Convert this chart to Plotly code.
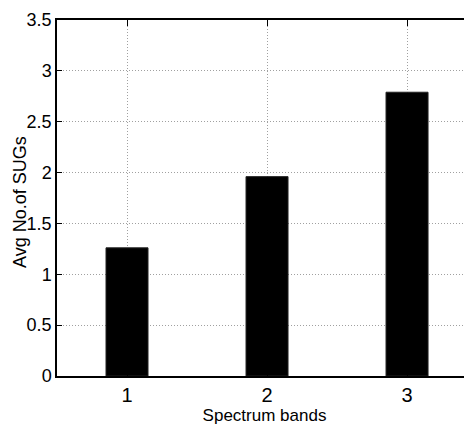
import plotly.graph_objects as go

categories = [1, 2, 3]
avg_sugs = [1.26, 1.96, 2.79]
y_ticks = [0, 0.5, 1, 1.5, 2, 2.5, 3, 3.5]
y_tick_labels = ["0", "0.5", "1", "1.5", "2", "2.5", "3", "3.5"]
x_title = "Spectrum bands"
y_title = "Avg No.of SUGs"

sans = "Liberation Sans, Arial, sans-serif"

fig = go.Figure()
fig.add_trace(go.Bar(
    x=categories, y=avg_sugs, width=0.3,
    marker=dict(color="black", line=dict(color="#222222", width=1)),
))

# page body has an 8px default margin, so the figure is 8px smaller than the window
fig.update_layout(
    width=464, height=429,
    margin=dict(l=49, r=0, t=12, b=61),
    paper_bgcolor="white", plot_bgcolor="white",
    showlegend=False,
    font=dict(family=sans, color="black", size=18),
    annotations=[dict(
        text=y_title, textangle=-90, showarrow=False,
        xref="paper", yref="paper", x=0, y=0.489,
        xanchor="center", yanchor="middle", xshift=-37,
        font=dict(family=sans, size=18, color="black"),
    )],
)
fig.update_xaxes(
    range=[0.5, 3.464], tickvals=categories, ticktext=[str(c) for c in categories],
    ticks="inside", ticklen=6, tickcolor="black", tickwidth=1,
    showline=True, linecolor="black", linewidth=2, mirror="ticks",
    showgrid=True, gridcolor="#a0a0a0", griddash="1px,2px", gridwidth=1,
    zeroline=False, automargin=False,
    tickfont=dict(family=sans, size=20),
    title=dict(text=x_title, font=dict(family=sans, size=17), standoff=3),
)
fig.update_yaxes(
    range=[0, 3.5], tickvals=y_ticks, ticktext=y_tick_labels,
    ticks="inside", ticklen=5, tickcolor="black", tickwidth=1,
    showline=True, linecolor="black", linewidth=1.5, mirror=False,
    showgrid=True, gridcolor="#a0a0a0", griddash="1px,2px", gridwidth=1,
    zeroline=False, automargin=False,
    tickfont=dict(family=sans, size=18),
)

fig.write_html("out.html")
